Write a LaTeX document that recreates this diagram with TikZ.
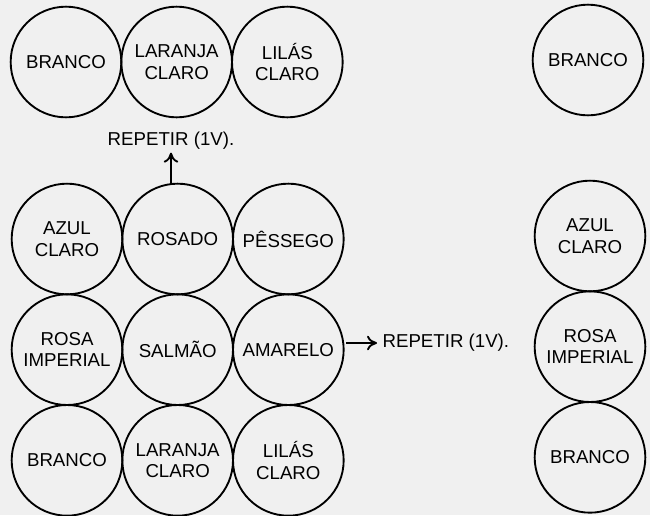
\documentclass[tikz,border=0pt]{standalone}
\usepackage{fontspec}
\setmainfont{Liberation Sans}
\usetikzlibrary{arrows,arrows.meta,positioning}

\begin{document}
\begin{tikzpicture}[x=0.75pt,y=-0.75pt,
cor/.style={minimum size=83pt,inner sep=0pt,outer sep=0pt,draw,circle,line width=1.4pt,node distance=0pt,align=center,font=\fontsize{14}{16}\selectfont},
nota/.style={inner sep=1pt,font=\fontsize{14}{16}\selectfont},
seta/.style={-{To[length=7.5pt,width=11pt]},line width=1.4pt}]

        \fill [black!6] (0,0) rectangle (650,515);
        \useasboundingbox (0,0) rectangle (650,515);

        % faixa de cima
        \node [cor] (A1) at (66,62) {BRANCO};
        \node [cor, right = of A1] (A2) {LARANJA\\CLARO};
        \node [cor, right = of A2] (A3) {LILÁS\\CLARO};

        % bloco de 3x3
        \node [cor] (B1) at (67,239) {AZUL\\CLARO};
        \node [cor, right = of B1] (B2) {ROSADO};
        \node [cor, right = of B2] (B3) {PÊSSEGO};
        \node [cor, below = of B1] (C1) {ROSA\\IMPERIAL};
        \node [cor, right = of C1] (C2) {SALMÃO};
        \node [cor, right = of C2] (C3) {AMARELO};
        \node [cor, below = of C1] (D1) {BRANCO};
        \node [cor, right = of D1] (D2) {LARANJA\\CLARO};
        \node [cor, right = of D2] (D3) {LILÁS\\CLARO};

        % coluna da direita
        \node [cor] (R1) at (588,60) {BRANCO};
        \node [cor] (R2) at (590,236) {AZUL\\CLARO};
        \node [cor, below = of R2] (R3) {ROSA\\IMPERIAL};
        \node [cor, below = of R3] (R4) {BRANCO};

        \node [nota] (rep1) at (171,141) {REPETIR (1V).};
        \node [nota, anchor=west] (rep2) at (381,343) {REPETIR (1V).};
        \draw [seta] (B2.north -| rep1) -- ([yshift=-1pt]rep1.south);
        \draw [seta] ([xshift=2pt]C3.east |- rep2) -- ([xshift=-3pt]rep2.west);
    \end{tikzpicture}
\end{document}
